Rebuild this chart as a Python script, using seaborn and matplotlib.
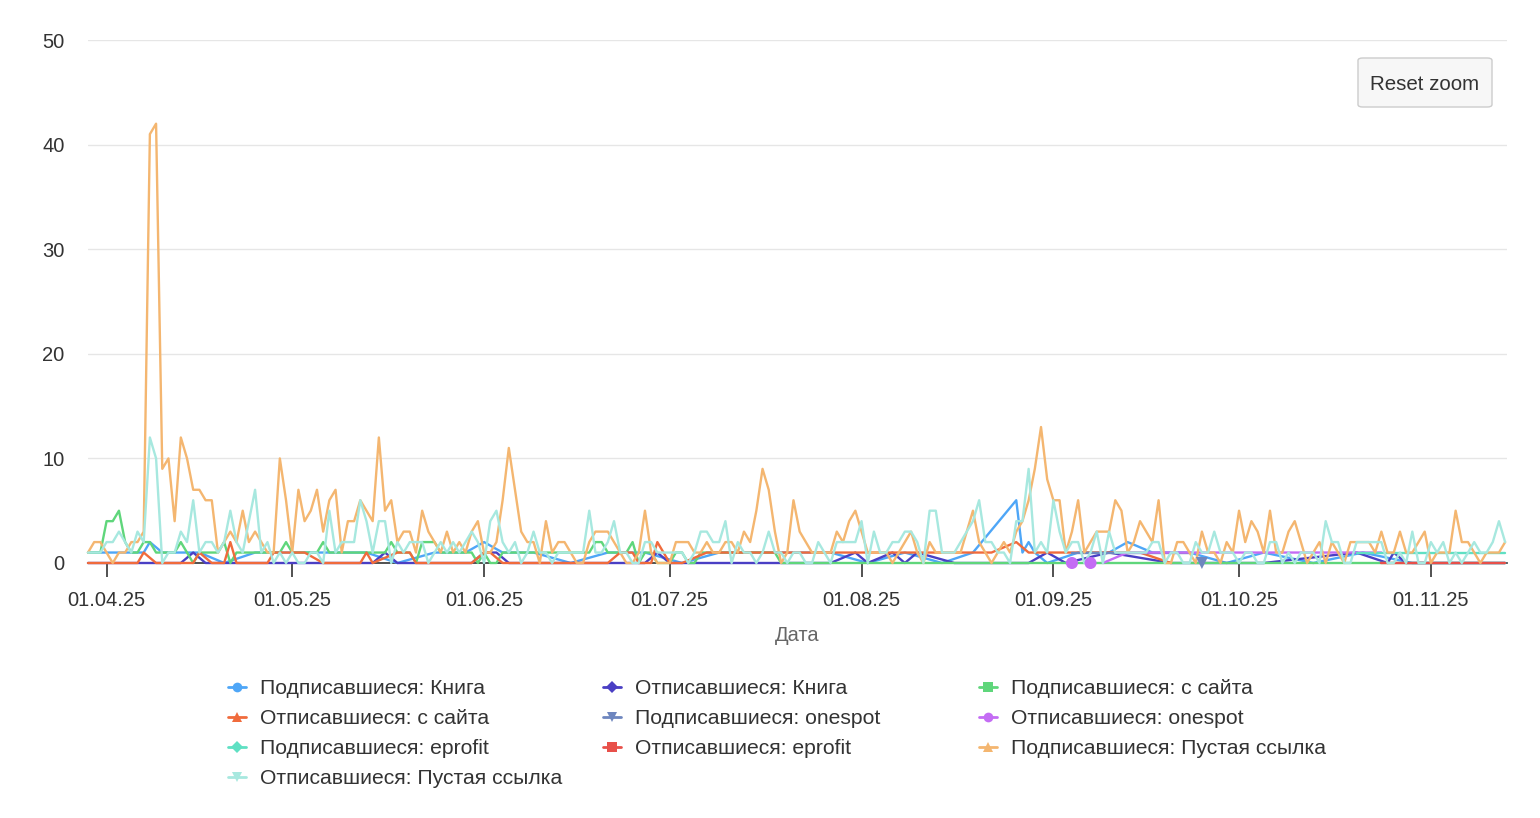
import numpy as np
import pandas as pd
import matplotlib
matplotlib.use("Agg")
import matplotlib.pyplot as plt
import matplotlib.dates as mdates
from matplotlib.lines import Line2D
from matplotlib.patches import FancyBboxPatch
import seaborn as sns

# ---------------- data ----------------
start_date = "2025-03-29"

# daily series (one value per day from start_date)
empty_sub = [1, 2, 2, 1, 0, 1, 1, 2, 2, 3,
             41, 42, 9, 10, 4, 12, 10, 7, 7, 6, 6, 1,
             2, 3, 2, 5, 2, 3, 2, 1, 1, 10, 6, 1, 7, 4, 5, 7, 3, 6, 7, 1, 4,
             4, 6, 5, 4, 12, 5, 6, 2, 3, 3, 1, 5, 3, 2, 1, 3, 1, 2, 1, 3, 4,
             1, 1, 2, 6, 11, 7, 3, 2, 2, 0, 4, 1, 2, 2, 1, 0, 0, 2, 3, 3, 3,
             2, 1, 0, 0, 1, 5, 1, 0, 0, 0, 2, 2, 2, 1, 1, 2, 1, 1, 2, 2, 1,
             3, 2, 5, 9, 7, 3, 0, 1, 6, 3, 2, 1, 1, 1, 1, 3, 2, 4, 5, 3,
             1, 1, 1, 1, 0, 1, 2, 3, 1, 0, 2, 1, 1, 1, 1, 1, 3, 5, 2, 1, 0, 1,
             2, 1, 3, 4, 6, 9, 13, 8, 6, 6, 1, 3, 6, 1, 2, 3, 3, 3, 6, 5, 1,
             2, 4, 3, 2, 6, 0, 0, 2, 2, 1, 0, 3, 1, 1, 0, 2, 1, 5, 2, 4, 3,
             1, 5, 1, 1, 3, 4, 2, 0, 1, 2, 0, 2, 1, 0, 2, 2, 2, 2, 1, 3, 1,
             1, 3, 1, 1, 2, 3, 0, 1, 1, 1, 5, 2, 2, 1, 0, 1, 1, 1, 2]

empty_unsub = [1, 1, 1, 2, 2, 3, 2, 1, 3, 2, 12, 10, 0, 1, 1, 3, 2, 6, 1, 2, 2, 1,
               2, 5, 2, 1, 4, 7, 1, 2, 0, 1, 0, 1, 0, 0, 1, 1, 0, 5, 1, 2, 2,
               2, 6, 4, 1, 4, 4, 0, 2, 1, 2, 2, 2, 0, 1, 2, 1, 2, 1, 2, 3, 2,
               0, 4, 5, 2, 1, 2, 0, 1, 3, 1, 1, 0, 1, 1, 1, 1, 1, 5, 1, 1, 2,
               4, 1, 1, 0, 0, 2, 2, 1, 1, 1, 1, 1, 0, 1, 3, 3, 2, 2, 4, 0, 2,
               1, 1, 0, 1, 3, 1, 1, 0, 1, 1, 0, 0, 2, 1, 0, 2, 2, 2, 2, 4, 0,
               3, 1, 1, 2, 2, 3, 3, 2, 0, 5, 5, 1, 1, 1, 2, 3, 4, 6, 2, 2, 1,
               1, 0, 4, 4, 9, 1, 2, 1, 6, 3, 1, 2, 2, 0, 1, 3, 0, 3, 1, 1, 1,
               1, 1, 1, 2, 2, 0, 1, 1, 0, 0, 2, 1, 1, 3, 1, 1, 1, 0, 1, 1, 0,
               0, 2, 2, 0, 1, 0, 1, 1, 1, 0, 4, 2, 2, 0, 0, 2, 2, 2, 2, 2, 0,
               0, 1, 0, 3, 0, 0, 2, 1, 2, 0, 1, 0, 1, 2, 1, 1, 2, 4, 2]

site_sub = [1, 1, 1, 4, 4, 5, 2, 1, 1, 2, 2, 1, 1, 1, 1, 2, 1, 0, 1, 1, 1, 1,
            2, 0, 1, 1, 1, 1, 1, 1, 1, 1, 2, 1, 1, 1, 1, 1, 2, 1, 1, 1, 1,
            1, 1, 1, 1, 1, 1, 2, 1, 1, 1, 0, 2, 2, 2, 1, 1, 1, 1, 1, 1, 0,
            1, 0, 0, 1, 1, 1, 1, 1, 1, 1, 1, 1, 1, 1, 1, 1, 1, 1, 2, 2, 1,
            1, 1, 1, 2, 0, 1, 1, 0, 0, 0, 1, 1, 0, 0, 1, 1, 1, 1, 1, 1, 1,
            1, 1, 1, 1, 1, 1, 0, 0, 0, 0, 0, 0, 0, 0, 0, 0, 0, 0, 0, 0, 0]
site_sub_tail_days = [229]
site_sub_tail_vals = [0]

# sparse series: day offsets from start_date and values
book_sub_days = [0, 3, 6, 9, 10, 12, 15, 18, 22, 27, 33, 39, 45, 50, 56, 61, 64, 67, 72, 78,
                 84, 90, 96, 102, 108, 114, 120, 126, 132, 138, 143, 150, 151, 152, 153, 155,
                 160, 165, 168, 172, 178, 184, 190, 198, 206, 214, 222, 229]
book_sub_vals = [1, 1, 1, 1, 2, 1, 1, 1, 0, 1, 1, 1, 1, 0, 1, 1, 2, 1, 1, 0,
                 1, 1, 0, 1, 1, 1, 1, 0, 1, 0, 1, 6, 1, 2, 1, 0,
                 1, 1, 2, 1, 1, 0, 1, 0, 1, 0, 0, 0]

book_unsub_days = [0, 15, 17, 19, 30, 46, 48, 50, 62, 64, 66, 68, 90, 92, 94, 120, 124, 126,
                   130, 132, 134, 140, 152, 155, 158, 165, 175, 190, 205, 210, 211, 213, 229]
book_unsub_vals = [0, 0, 1, 0, 0, 0, 1, 0, 0, 1, 1, 0, 0, 1, 0, 0, 1, 0,
                   1, 0, 1, 0, 0, 1, 0, 1, 0, 0, 1, 0, 1, 0, 0]

site_unsub_days = [0, 8, 9, 11, 17, 18, 20, 22, 23, 24, 29, 30, 35, 38, 44, 45, 46, 50, 52, 53,
                   58, 62, 64, 65, 67, 75, 82, 84, 86, 88, 89, 91, 92, 94, 96, 100, 110, 120,
                   130, 140, 146, 150, 152, 156, 160, 165, 170, 175]
site_unsub_vals = [0, 0, 1, 0, 0, 1, 0, 0, 2, 0, 0, 1, 1, 0, 0, 1, 0, 1, 1, 0,
                   0, 0, 1, 1, 0, 0, 0, 0, 1, 1, 0, 0, 2, 0, 0, 1, 1, 1,
                   1, 1, 1, 2, 1, 1, 1, 1, 1, 0]

onespot_sub_days = [159, 162, 165, 168, 172, 176, 178]
onespot_sub_vals = [1, 1, 1, 1, 1, 1, 1]
onespot_sub_single_days = [180]
onespot_sub_single_vals = [0]

onespot_unsub_days = [164, 168, 172, 180, 190, 200, 209]
onespot_unsub_vals = [0, 1, 1, 1, 1, 1, 1]
onespot_unsub_single_days = [159, 162]
onespot_unsub_single_vals = [0, 0]

eprofit_sub_days = [205, 210, 215, 220, 225, 229]
eprofit_sub_vals = [1, 1, 1, 1, 1, 1]

eprofit_unsub_days = [209, 215, 222, 229]
eprofit_unsub_vals = [0, 0, 0, 0]

series_names = ["Подписавшиеся: Книга", "Отписавшиеся: Книга",
                "Подписавшиеся: с сайта", "Отписавшиеся: с сайта",
                "Подписавшиеся: onespot", "Отписавшиеся: onespot",
                "Подписавшиеся: eprofit", "Отписавшиеся: eprofit",
                "Подписавшиеся: Пустая ссылка", "Отписавшиеся: Пустая ссылка"]
series_colors = ["#4ea6f7", "#4a3fc4", "#5fd67b", "#f06b3c", "#6e86bf",
                 "#c46cf4", "#5fe0c3", "#e8504a", "#f4b670", "#a7e8df"]
series_markers = ["o", "D", "s", "^", "v", "o", "D", "s", "^", "v"]

x_ticks = ["2025-04-01", "2025-05-01", "2025-06-01", "2025-07-01", "2025-08-01",
           "2025-09-01", "2025-10-01", "2025-11-01"]
y_ticks = [0, 10, 20, 30, 40, 50]

# ---------------- build frames ----------------
t0 = pd.Timestamp(start_date)


def frame(days, vals):
    return pd.DataFrame({"date": t0 + pd.to_timedelta(np.asarray(days), unit="D"),
                         "value": vals})


site_sub_days_all = list(range(len(site_sub))) + site_sub_tail_days
site_sub_vals_all = site_sub + site_sub_tail_vals

frames = [
    frame(book_sub_days, book_sub_vals),
    frame(book_unsub_days, book_unsub_vals),
    frame(site_sub_days_all, site_sub_vals_all),
    frame(site_unsub_days, site_unsub_vals),
    frame(onespot_sub_days, onespot_sub_vals),
    frame(onespot_unsub_days, onespot_unsub_vals),
    frame(eprofit_sub_days, eprofit_sub_vals),
    frame(eprofit_unsub_days, eprofit_unsub_vals),
    frame(range(len(empty_sub)), empty_sub),
    frame(range(len(empty_unsub)), empty_unsub),
]
singles = {4: frame(onespot_sub_single_days, onespot_sub_single_vals),
           5: frame(onespot_unsub_single_days, onespot_unsub_single_vals)}

# ---------------- plot ----------------
sns.set_theme(style="white")
plt.rcParams["font.family"] = ["Liberation Sans", "DejaVu Sans"]

W, H = 1540, 818
fig = plt.figure(figsize=(W / 100, H / 100), dpi=100)
fig.patch.set_facecolor("white")
ax = fig.add_axes([88 / W, 1 - 563 / H, (1507 - 88) / W, (563 - 40) / H])
ax.set_facecolor("white")

for k, df in enumerate(frames):
    sns.lineplot(data=df, x="date", y="value", ax=ax, color=series_colors[k],
                 linewidth=1.7, estimator=None, sort=False, legend=False, zorder=3 + k * 0.1)
    if k in singles:
        sns.scatterplot(data=singles[k], x="date", y="value", ax=ax,
                        color=series_colors[k], marker=series_markers[k], s=75,
                        edgecolor="none", legend=False, zorder=4, clip_on=False)
for ln in ax.lines:
    ln.set_clip_on(False)
    ln.set_solid_joinstyle("round")
for c in ax.collections:
    c.set_clip_on(False)

ax.set_ylim(0, 50)
ax.set_xlim(t0, t0 + pd.Timedelta(days=229.3))
ax.set_yticks(y_ticks)
ax.set_yticklabels([str(v) for v in y_ticks])
ax.set_xticks(pd.to_datetime(x_ticks))
ax.xaxis.set_major_formatter(mdates.DateFormatter("%d.%m.%y"))

ax.grid(axis="y", color="#e6e6e6", linewidth=1.0)
ax.grid(axis="x", visible=False)
ax.set_axisbelow(True)
for s in ["top", "right", "left"]:
    ax.spines[s].set_visible(False)
ax.spines["bottom"].set_color("#333333")
ax.spines["bottom"].set_linewidth(1.2)
ax.spines["bottom"].set_zorder(2)

ax.tick_params(axis="y", length=0, pad=17, labelsize=14.5, labelcolor="#333333")
ax.tick_params(axis="x", length=10, width=1.2, color="#333333", pad=10,
               labelsize=14.5, labelcolor="#333333", bottom=True)
ax.set_xlabel("Дата", fontsize=14.5, color="#666666", labelpad=12)
ax.set_ylabel("")

# legend (Highcharts-style, three columns)
col_x = [228, 603, 979]
row_y = [687, 717, 747, 777]
for k, name in enumerate(series_names):
    cx = col_x[k % 3]
    cy = row_y[k // 3]
    fy = 1 - cy / H
    fig.add_artist(Line2D([cx / W, (cx + 18) / W], [fy, fy], color=series_colors[k],
                          linewidth=2, transform=fig.transFigure))
    fig.add_artist(Line2D([(cx + 9) / W], [fy], color=series_colors[k],
                          marker=series_markers[k], markersize=7 if series_markers[k] != "D" else 6,
                          markeredgewidth=0, linestyle="none", transform=fig.transFigure))
    fig.text((cx + 32) / W, fy, name, fontsize=15.2, color="#333333",
             ha="left", va="center_baseline")

# Reset zoom button
btn = FancyBboxPatch((1358 / W, 1 - 107 / H), (1492 - 1358) / W, (107 - 58) / H,
                     boxstyle="round,pad=0,rounding_size=0.003", transform=fig.transFigure,
                     facecolor="#f7f7f7", edgecolor="#cccccc", linewidth=1)
fig.add_artist(btn)
fig.text(1425 / W, 1 - 82 / H, "Reset zoom", fontsize=14.8, color="#333333",
         ha="center", va="center_baseline")

fig.savefig("out.png", dpi=100, facecolor="white")
